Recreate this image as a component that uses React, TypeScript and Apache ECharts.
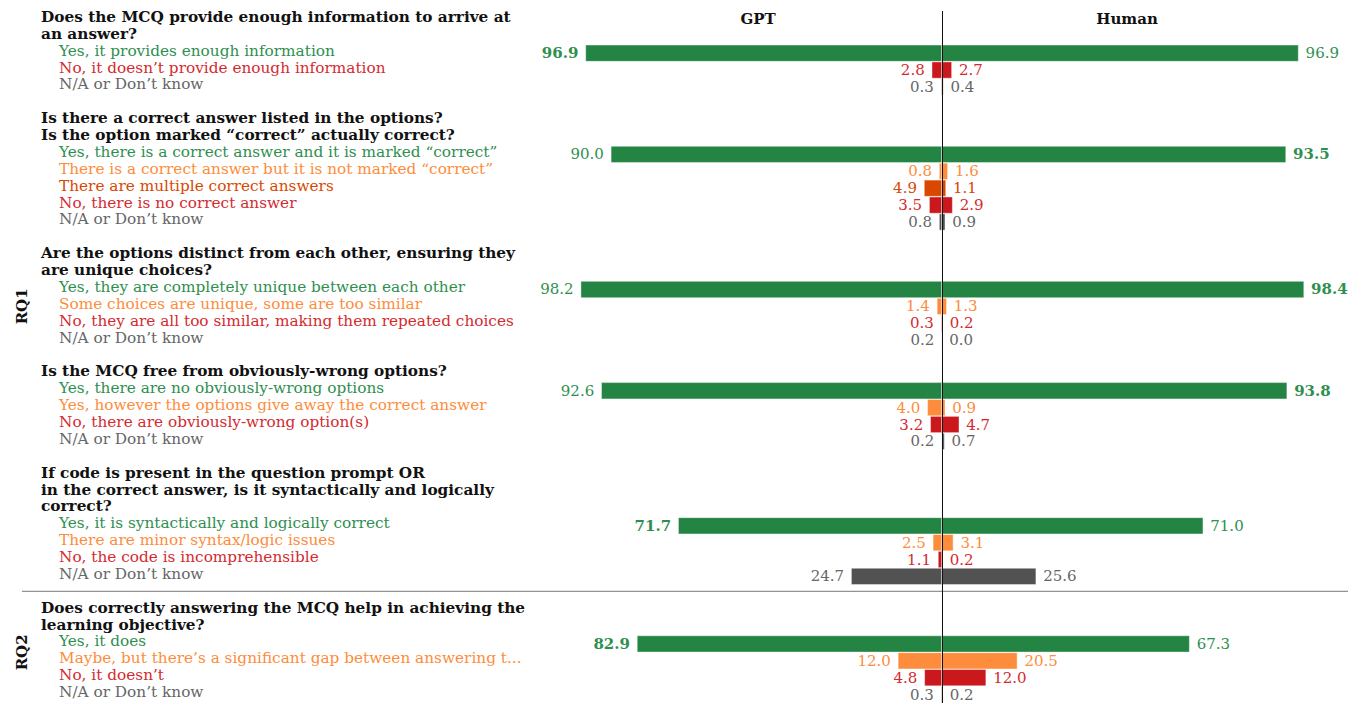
import React, { useEffect, useRef } from "react";
import * as echarts from "echarts";

const FONT = '"DejaVu Serif", serif';

const sideTitles = ["GPT", "Human"];
const researchQuestions = ["RQ1", "RQ2"];

const questions: string[][] = [
  ["Does the MCQ provide enough information to arrive at", "an answer?"],
  ["Is there a correct answer listed in the options?", "Is the option marked “correct” actually correct?"],
  ["Are the options distinct from each other, ensuring they", "are unique choices?"],
  ["Is the MCQ free from obviously-wrong options?"],
  ["If code is present in the question prompt OR", "in the correct answer, is it syntactically and logically", "correct?"],
  ["Does correctly answering the MCQ help in achieving the", "learning objective?"],
];

const optionLabels: string[][] = [
  ["Yes, it provides enough information", "No, it doesn’t provide enough information", "N/A or Don’t know"],
  [
    "Yes, there is a correct answer and it is marked “correct”",
    "There is a correct answer but it is not marked “correct”",
    "There are multiple correct answers",
    "No, there is no correct answer",
    "N/A or Don’t know",
  ],
  [
    "Yes, they are completely unique between each other",
    "Some choices are unique, some are too similar",
    "No, they are all too similar, making them repeated choices",
    "N/A or Don’t know",
  ],
  [
    "Yes, there are no obviously-wrong options",
    "Yes, however the options give away the correct answer",
    "No, there are obviously-wrong option(s)",
    "N/A or Don’t know",
  ],
  [
    "Yes, it is syntactically and logically correct",
    "There are minor syntax/logic issues",
    "No, the code is incomprehensible",
    "N/A or Don’t know",
  ],
  [
    "Yes, it does",
    "Maybe, but there’s a significant gap between answering t...",
    "No, it doesn’t",
    "N/A or Don’t know",
  ],
];

const optionKinds: string[][] = [
  ["yes", "no", "na"],
  ["yes", "minor", "multi", "no", "na"],
  ["yes", "minor", "no", "na"],
  ["yes", "minor", "no", "na"],
  ["yes", "minor", "no", "na"],
  ["yes", "minor", "no", "na"],
];

const gptValues: number[][] = [
  [96.9, 2.8, 0.3],
  [90.0, 0.8, 4.9, 3.5, 0.8],
  [98.2, 1.4, 0.3, 0.2],
  [92.6, 4.0, 3.2, 0.2],
  [71.7, 2.5, 1.1, 24.7],
  [82.9, 12.0, 4.8, 0.3],
];

const humanValues: number[][] = [
  [96.9, 2.7, 0.4],
  [93.5, 1.6, 1.1, 2.9, 0.9],
  [98.4, 1.3, 0.2, 0.0],
  [93.8, 0.9, 4.7, 0.7],
  [71.0, 3.1, 0.2, 25.6],
  [67.3, 20.5, 12.0, 0.2],
];

// which side is bold on the first ("yes") row of each question
const boldSide: string[] = ["gpt", "human", "human", "human", "gpt", "gpt"];

const BAR_COLORS: Record<string, string> = {
  yes: "#238443",
  minor: "#fd8d3c",
  multi: "#d94801",
  no: "#cb181d",
  na: "#525252",
};
const TEXT_COLORS: Record<string, string> = {
  yes: "#2f8f4f",
  minor: "#fd8d3c",
  multi: "#d94801",
  no: "#d42a30",
  na: "#666666",
};

type Row = {
  kind: "header" | "opt" | "blank";
  text: string;
  cat?: string;
  gpt?: number;
  human?: number;
  bold?: string | null;
};

function buildRows(): Row[] {
  const rows: Row[] = [];
  questions.forEach((q, qi) => {
    if (qi > 0) rows.push({ kind: "blank", text: "" });
    q.forEach((line) => rows.push({ kind: "header", text: line }));
    optionLabels[qi].forEach((t, oi) =>
      rows.push({
        kind: "opt",
        text: t,
        cat: optionKinds[qi][oi],
        gpt: gptValues[qi][oi],
        human: humanValues[qi][oi],
        bold: oi === 0 ? boldSide[qi] : null,
      })
    );
  });
  return rows;
}

const W = 1363;
const H = 704;
const GRID_TOP = 11;
const GRID_BOTTOM = 1;
const GRID_LEFT = 574;
const GRID_RIGHT = 53;
const TEXT_SIZE = 15.3;

export default function App() {
  const ref = useRef<HTMLDivElement>(null);
  useEffect(() => {
    if (!ref.current) return;
    const chart = echarts.init(ref.current, undefined, { renderer: "svg" });
    const rows = buildRows();
    const n = rows.length;
    const slot = (H - GRID_TOP - GRID_BOTTOM) / n;
    const center = GRID_LEFT + (W - GRID_LEFT - GRID_RIGHT) / 2;

    const rich: Record<string, any> = {
      h: { fontFamily: FONT, fontSize: TEXT_SIZE, fontWeight: "bold", color: "#111", padding: [0, 0, 5, 0] },
    };
    Object.keys(TEXT_COLORS).forEach((k) => {
      rich["o" + k] = { fontFamily: FONT, fontSize: TEXT_SIZE, color: TEXT_COLORS[k], padding: [0, 0, 5, 18] };
    });

    const mkData = (side: "gpt" | "human") =>
      rows.map((r) => {
        if (r.kind !== "opt") return "-";
        const v = side === "gpt" ? -(r.gpt as number) : (r.human as number);
        return {
          value: v,
          itemStyle: { color: BAR_COLORS[r.cat as string] },
          label: {
            color: TEXT_COLORS[r.cat as string],
            fontWeight: r.bold === side ? "bold" : "normal",
          },
        };
      });

    const sepY = GRID_TOP + slot * 34.5 - 2;
    const rq1Y = GRID_TOP + slot * 17.5;
    const rq2Y = GRID_TOP + slot * 38;

    chart.setOption({
      animation: false,
      grid: { left: GRID_LEFT, right: GRID_RIGHT, top: GRID_TOP, bottom: GRID_BOTTOM, containLabel: false },
      xAxis: {
        type: "value",
        min: -100,
        max: 100,
        show: false,
      },
      yAxis: {
        type: "category",
        inverse: true,
        data: rows.map((_, i) => String(i)),
        axisLine: { show: false },
        axisTick: { show: false },
        axisLabel: {
          interval: 0,
          align: "left",
          margin: GRID_LEFT - 41,
          formatter: (_v: string, i: number) => {
            const r = rows[i];
            if (!r || r.kind === "blank") return "";
            if (r.kind === "header") return "{h|" + r.text + "}";
            return "{o" + r.cat + "|" + r.text + "}";
          },
          rich,
        },
      },
      series: [
        {
          type: "bar",
          name: "GPT",
          barGap: "-100%",
          barCategoryGap: "0%",
          itemStyle: { borderColor: "rgba(255,255,255,0.7)", borderWidth: 0.6 },
          label: {
            show: true,
            position: "left",
            distance: 7,
            fontFamily: FONT,
            fontSize: 15,
            formatter: (p: any) => Math.abs(p.value).toFixed(1),
          },
          data: mkData("gpt"),
          markLine: {
            silent: true,
            symbol: "none",
            label: { show: false },
            lineStyle: { color: "#111", width: 1, type: "solid" },
            data: [{ xAxis: 0 }],
          },
        },
        {
          type: "bar",
          name: "Human",
          barGap: "-100%",
          barCategoryGap: "0%",
          itemStyle: { borderColor: "rgba(255,255,255,0.7)", borderWidth: 0.6 },
          label: {
            show: true,
            position: "right",
            distance: 7,
            fontFamily: FONT,
            fontSize: 15,
            formatter: (p: any) => Math.abs(p.value).toFixed(1),
          },
          data: mkData("human"),
        },
      ],
      graphic: [
        {
          type: "text",
          x: center - 184,
          y: 19,
          style: { text: sideTitles[0], font: `bold 15px ${FONT}`, fill: "#111", align: "center", verticalAlign: "middle" },
        },
        {
          type: "text",
          x: center + 185,
          y: 19,
          style: { text: sideTitles[1], font: `bold 15px ${FONT}`, fill: "#111", align: "center", verticalAlign: "middle" },
        },
        {
          type: "line",
          shape: { x1: 22, y1: sepY, x2: 1348, y2: sepY },
          style: { stroke: "#777", lineWidth: 1 },
        },
        {
          type: "text",
          x: 22,
          y: rq1Y,
          rotation: Math.PI / 2,
          style: { text: researchQuestions[0], font: `bold 15px ${FONT}`, fill: "#111", align: "center", verticalAlign: "middle" },
        },
        {
          type: "text",
          x: 22,
          y: rq2Y,
          rotation: Math.PI / 2,
          style: { text: researchQuestions[1], font: `bold 15px ${FONT}`, fill: "#111", align: "center", verticalAlign: "middle" },
        },
      ],
    });
    return () => chart.dispose();
  }, []);
  return <div ref={ref} style={{ position: "fixed", left: 0, top: 0, width: W, height: H, background: "#fff" }} />;
}
